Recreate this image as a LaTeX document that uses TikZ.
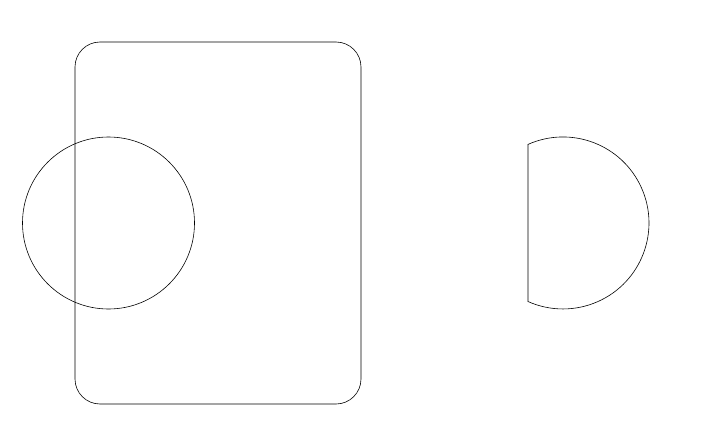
\documentclass[tikz,border=0pt]{standalone}
\begin{document}
\begin{tikzpicture}[
		x=1pt,y=-1pt,
		outline/.style={draw,line width=0.6pt}
	]
	\useasboundingbox (0,0) rectangle (721,431);
	% rounded frame
	\draw[outline,rounded corners=25pt] (75,42) rectangle (361,404);
	% full circle
	\draw[outline] (108.5,223) circle (86);
	% cut circle
	\draw[outline] (528,144.4) arc[start angle=-114,end angle=114,radius=86] -- cycle;
\end{tikzpicture}
\end{document}
